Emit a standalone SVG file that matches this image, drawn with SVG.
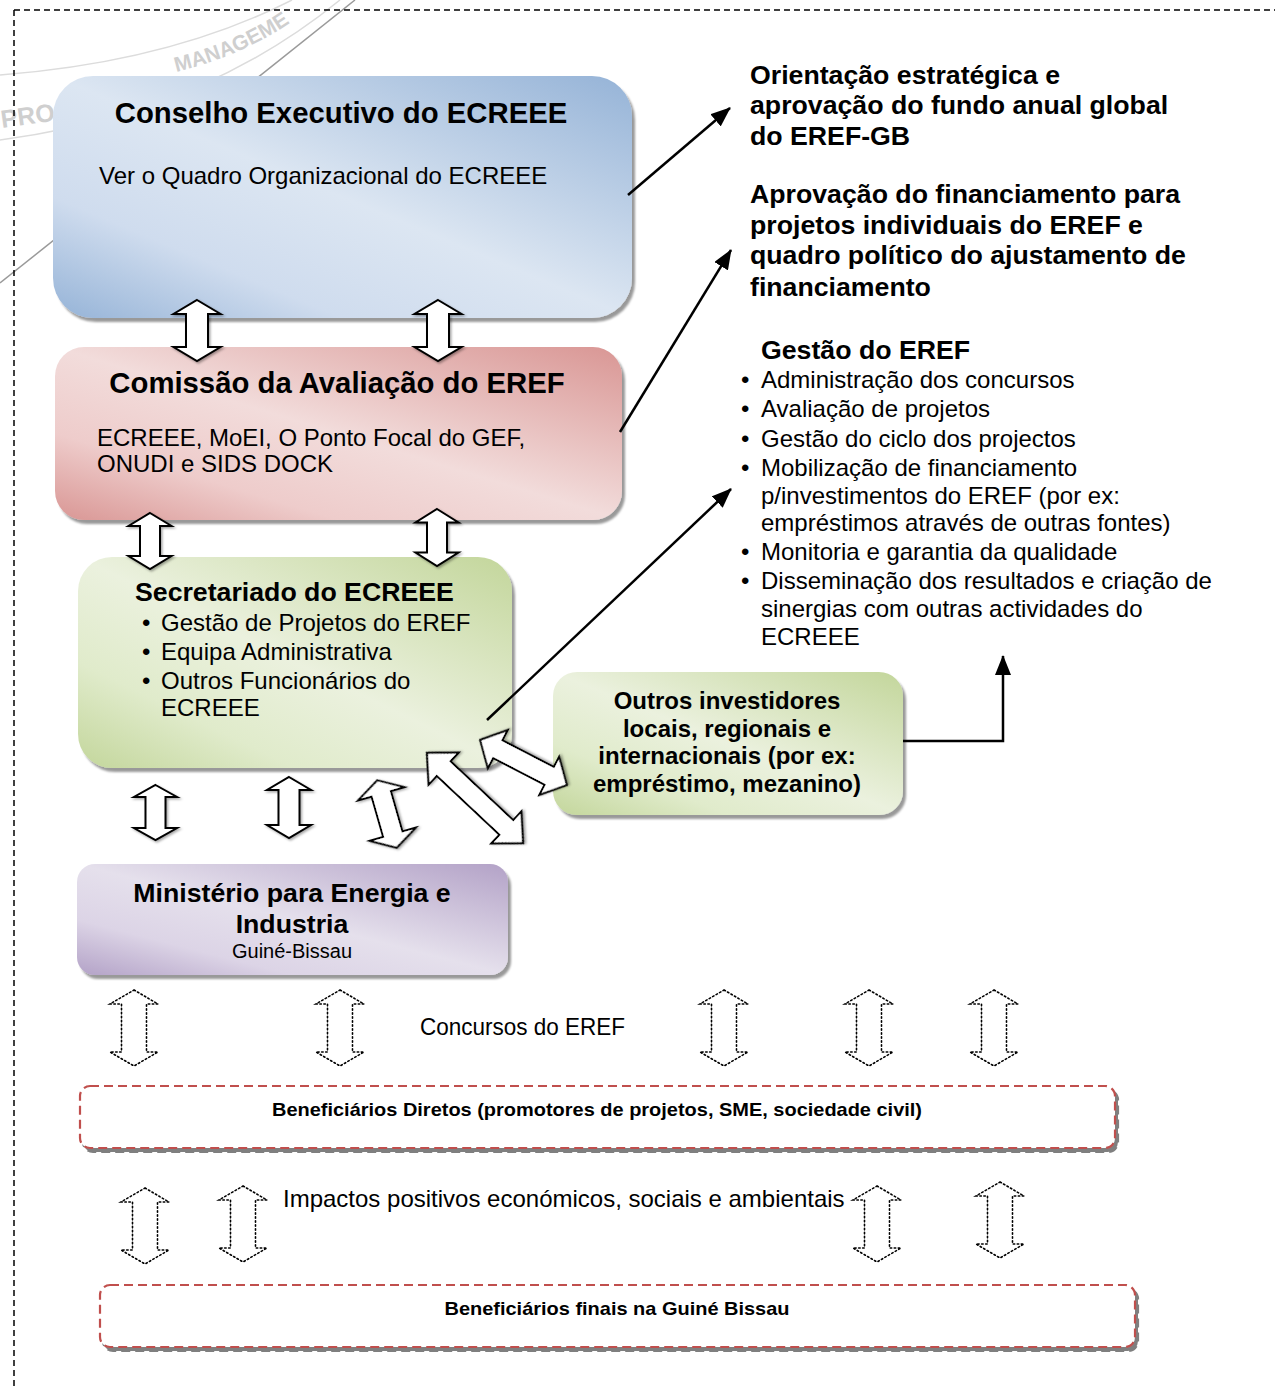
<svg xmlns="http://www.w3.org/2000/svg" width="1275" height="1387" viewBox="0 0 1275 1387">
<style>
text{font-family:"Liberation Sans",Arial,sans-serif;fill:#000}
.t29{font-size:29.3px;font-weight:bold}
.t27{font-size:26.7px;font-weight:bold}
.b24{font-size:24px;font-weight:bold}
.n24{font-size:24px}
.n20{font-size:20px}
.d19{font-size:19px;font-weight:bold}
.blk{fill:#fff;stroke:#000;stroke-width:2;stroke-linejoin:miter;filter:url(#ash)}
.dot{fill:none;stroke:#000;stroke-width:1.6;stroke-dasharray:1.5 2.5;stroke-linecap:round}
.ln{fill:none;stroke:#000;stroke-width:2.5}
.dbox{fill:#fff;stroke:#c0504d;stroke-width:2.2;stroke-dasharray:9 5;filter:url(#dsh)}
.wm{fill:#cfcfcf;font-size:25px;font-weight:bold}
.wm2{fill:#cfcfcf;font-size:21px;font-weight:bold}
</style>
<defs>
<linearGradient id="gBlue" x1="1" y1="0" x2="0" y2="1"><stop offset="0" stop-color="#95b3d7"/><stop offset="0.5" stop-color="#dce6f2"/><stop offset="0.75" stop-color="#cfdcee"/><stop offset="1" stop-color="#95b3d7"/></linearGradient>
<linearGradient id="gRed" x1="1" y1="0" x2="0" y2="1"><stop offset="0" stop-color="#d99694"/><stop offset="0.5" stop-color="#f2dcdb"/><stop offset="0.75" stop-color="#eecccb"/><stop offset="1" stop-color="#d99694"/></linearGradient>
<linearGradient id="gGreen" x1="1" y1="0" x2="0" y2="1"><stop offset="0" stop-color="#c3d69b"/><stop offset="0.5" stop-color="#ebf1de"/><stop offset="0.75" stop-color="#e0ebcb"/><stop offset="1" stop-color="#c3d69b"/></linearGradient>
<linearGradient id="gPurple" x1="1" y1="0" x2="0" y2="1"><stop offset="0" stop-color="#b3a2c7"/><stop offset="0.5" stop-color="#e5e0ec"/><stop offset="0.75" stop-color="#dcd4e6"/><stop offset="1" stop-color="#b3a2c7"/></linearGradient>
<filter id="sh" x="-5%" y="-5%" width="115%" height="120%"><feDropShadow dx="3" dy="4" stdDeviation="1" flood-color="#000" flood-opacity="0.4"/></filter>
<filter id="ash" x="-20%" y="-20%" width="150%" height="150%"><feDropShadow dx="1.5" dy="1.5" stdDeviation="0.8" flood-color="#000" flood-opacity="0.35"/></filter>
<filter id="dsh" x="-5%" y="-20%" width="115%" height="150%"><feDropShadow dx="3" dy="4" stdDeviation="0.6" flood-color="#7f7f7f" flood-opacity="1"/></filter>
<marker id="ah2" viewBox="0 0 20 16" refX="19" refY="8" markerWidth="20" markerHeight="16" markerUnits="userSpaceOnUse" orient="auto"><path d="M0,0 L20,8 L0,16 Z" fill="#000"/></marker>
<path id="wmPath" d="M176,72 Q250,54 302,14"/>
</defs>

<rect width="1275" height="1387" fill="#fff"/>

<!-- watermark -->
<g id="watermark">
<path d="M0,75 Q170,62 292,0" fill="none" stroke="#dcdcdc" stroke-width="1.5"/>
<path d="M0,140 Q200,114 340,0" fill="none" stroke="#dcdcdc" stroke-width="1.5"/>
<line x1="0" y1="283" x2="355" y2="0" stroke="#9a9a9a" stroke-width="1.5"/>
<text class="wm" x="2" y="128" transform="rotate(-8 2 128)">PRO</text>
<text class="wm2"><textPath href="#wmPath">MANAGEME</textPath></text>
</g>

<!-- outer dashed frame -->
<path d="M14,10 H1275 M14,10 V1387" fill="none" stroke="#000" stroke-width="1.5" stroke-dasharray="6 4"/>

<!-- nodes -->
<g id="conselho">
<rect x="53" y="76" width="579" height="242" rx="40" fill="url(#gBlue)" filter="url(#sh)"/>
<text class="t29" x="341" y="123" text-anchor="middle">Conselho Executivo do ECREEE</text>
<text class="n24" x="99" y="184">Ver o Quadro Organizacional do ECREEE</text>
</g>

<g id="comissao">
<rect x="55" y="347" width="567" height="173" rx="29" fill="url(#gRed)" filter="url(#sh)"/>
<text class="t29" x="337" y="393" text-anchor="middle">Comissão da Avaliação do EREF</text>
<text class="n24" x="97" y="446">ECREEE, MoEI, O Ponto Focal do GEF,</text>
<text class="n24" x="97" y="472">ONUDI e SIDS DOCK</text>
</g>

<g id="secretariado">
<rect x="78" y="557" width="434" height="211" rx="34" fill="url(#gGreen)" filter="url(#sh)"/>
<text class="t27" x="135" y="601">Secretariado do ECREEE</text>
<text class="n24" x="142" y="631">•</text><text class="n24" x="161" y="631">Gestão de Projetos do EREF</text>
<text class="n24" x="142" y="660">•</text><text class="n24" x="161" y="660">Equipa Administrativa</text>
<text class="n24" x="142" y="689">•</text><text class="n24" x="161" y="689">Outros Funcionários do</text>
<text class="n24" x="161" y="716">ECREEE</text>
</g>

<g id="outros">
<rect x="553" y="672" width="350" height="143" rx="24" fill="url(#gGreen)" filter="url(#sh)"/>
<text class="b24" x="727" y="709" text-anchor="middle">Outros investidores</text>
<text class="b24" x="727" y="737" text-anchor="middle">locais, regionais e</text>
<text class="b24" x="727" y="764" text-anchor="middle">internacionais (por ex:</text>
<text class="b24" x="727" y="792" text-anchor="middle">empréstimo, mezanino)</text>
</g>

<g id="ministerio">
<rect x="77" y="864" width="431" height="111" rx="18" fill="url(#gPurple)" filter="url(#sh)"/>
<text class="t27" x="292" y="902" text-anchor="middle">Ministério para Energia e</text>
<text class="t27" x="292" y="933" text-anchor="middle">Industria</text>
<text class="n20" x="292" y="958" text-anchor="middle">Guiné-Bissau</text>
</g>

<g id="orientacao">
<text class="t27" x="750" y="84">Orientação estratégica e</text>
<text class="t27" x="750" y="114">aprovação do fundo anual global</text>
<text class="t27" x="750" y="145">do EREF-GB</text>
</g>

<g id="aprovacao">
<text class="t27" x="750" y="203">Aprovação do financiamento para</text>
<text class="t27" x="750" y="234">projetos individuais do EREF e</text>
<text class="t27" x="750" y="264">quadro político do ajustamento de</text>
<text class="t27" x="750" y="296">financiamento</text>
</g>

<g id="gestao">
<text class="t27" x="761" y="359">Gestão do EREF</text>
<text class="n24" x="741" y="388">•</text><text class="n24" x="761" y="388">Administração dos concursos</text>
<text class="n24" x="741" y="417">•</text><text class="n24" x="761" y="417">Avaliação de projetos</text>
<text class="n24" x="741" y="447">•</text><text class="n24" x="761" y="447">Gestão do ciclo dos projectos</text>
<text class="n24" x="741" y="476">•</text><text class="n24" x="761" y="476">Mobilização de financiamento</text>
<text class="n24" x="761" y="504">p/investimentos do EREF (por ex:</text>
<text class="n24" x="761" y="531">empréstimos através de outras fontes)</text>
<text class="n24" x="741" y="560">•</text><text class="n24" x="761" y="560">Monitoria e garantia da qualidade</text>
<text class="n24" x="741" y="589">•</text><text class="n24" x="761" y="589">Disseminação dos resultados e criação de</text>
<text class="n24" x="761" y="617">sinergias com outras actividades do</text>
<text class="n24" x="761" y="645">ECREEE</text>
</g>

<g id="concursos-label"><text class="n24" x="420" y="1035" textLength="205" lengthAdjust="spacingAndGlyphs">Concursos do EREF</text></g>
<g id="impactos-label"><text class="n24" x="283" y="1207">Impactos positivos económicos, sociais e ambientais</text></g>

<g id="beneficiarios-diretos">
<rect class="dbox" x="80" y="1086" width="1035" height="62" rx="10"/>
<text class="d19" x="597" y="1116" text-anchor="middle" textLength="650" lengthAdjust="spacingAndGlyphs">Beneficiários Diretos (promotores de projetos, SME, sociedade civil)</text>
</g>

<g id="beneficiarios-finais">
<rect class="dbox" x="100" y="1285" width="1035" height="62" rx="10"/>
<text class="d19" x="617" y="1315" text-anchor="middle" textLength="345" lengthAdjust="spacingAndGlyphs">Beneficiários finais na Guiné Bissau</text>
</g>

<!-- connectors -->
<g id="connectors">
<line class="ln" x1="628" y1="195" x2="730" y2="108" marker-end="url(#ah2)"/>
<line class="ln" x1="620" y1="432" x2="731" y2="250" marker-end="url(#ah2)"/>
<line class="ln" x1="487" y1="720" x2="731" y2="489" marker-end="url(#ah2)"/>
<polyline class="ln" points="903,741 1003,741 1003,656" marker-end="url(#ah2)"/>

<!-- solid double block arrows -->
<path class="blk" transform="translate(197,330.5)" d="M0,-30.5 L23.5,-16.5 L11,-16.5 L11,16.5 L23.5,16.5 L0,30.5 L-23.5,16.5 L-11,16.5 L-11,-16.5 L-23.5,-16.5 Z"/>
<path class="blk" transform="translate(438,330.5)" d="M0,-30.5 L23.5,-16.5 L11,-16.5 L11,16.5 L23.5,16.5 L0,30.5 L-23.5,16.5 L-11,16.5 L-11,-16.5 L-23.5,-16.5 Z"/>
<path class="blk" transform="translate(150,541)" d="M0,-28 L21.5,-15 L10,-15 L10,15 L21.5,15 L0,28 L-21.5,15 L-10,15 L-10,-15 L-21.5,-15 Z"/>
<path class="blk" transform="translate(437,537.5)" d="M0,-28.5 L21.5,-15 L10,-15 L10,15 L21.5,15 L0,28.5 L-21.5,15 L-10,15 L-10,-15 L-21.5,-15 Z"/>
<path class="blk" transform="translate(155.5,812.5)" d="M0,-27.5 L21.5,-15.5 L10,-15.5 L10,15.5 L21.5,15.5 L0,27.5 L-21.5,15.5 L-10,15.5 L-10,-15.5 L-21.5,-15.5 Z"/>
<path class="blk" transform="translate(289,807.5)" d="M0,-30.5 L22,-17.5 L10.5,-17.5 L10.5,17.5 L22,17.5 L0,30.5 L-22,17.5 L-10.5,17.5 L-10.5,-17.5 L-22,-17.5 Z"/>
<path class="blk" transform="translate(387,814) rotate(-16)" d="M0,-35 L24,-21 L10,-21 L10,21 L24,21 L0,35 L-24,21 L-10,21 L-10,-21 L-24,-21 Z"/>
<path class="blk" transform="translate(475,798) rotate(-46.8)" d="M0,-66 L22,-43 L10,-43 L10,43 L22,43 L0,66 L-22,43 L-10,43 L-10,-43 L-22,-43 Z"/>
<path class="blk" transform="translate(523.5,762.5) rotate(-62.6)" d="M0,-49 L21.5,-29 L10,-29 L10,29 L21.5,29 L0,49 L-21.5,29 L-10,29 L-10,-29 L-21.5,-29 Z"/>

<!-- dotted double arrows -->
<path class="dot" transform="translate(134,1028)" d="M0,-38 L24,-24 L12.5,-24 L12.5,24 L24,24 L0,38 L-24,24 L-12.5,24 L-12.5,-24 L-24,-24 Z"/>
<path class="dot" transform="translate(340,1028)" d="M0,-38 L24,-24 L12.5,-24 L12.5,24 L24,24 L0,38 L-24,24 L-12.5,24 L-12.5,-24 L-24,-24 Z"/>
<path class="dot" transform="translate(724,1028)" d="M0,-38 L24,-24 L12.5,-24 L12.5,24 L24,24 L0,38 L-24,24 L-12.5,24 L-12.5,-24 L-24,-24 Z"/>
<path class="dot" transform="translate(869,1028)" d="M0,-38 L24,-24 L12.5,-24 L12.5,24 L24,24 L0,38 L-24,24 L-12.5,24 L-12.5,-24 L-24,-24 Z"/>
<path class="dot" transform="translate(994,1028)" d="M0,-38 L24,-24 L12.5,-24 L12.5,24 L24,24 L0,38 L-24,24 L-12.5,24 L-12.5,-24 L-24,-24 Z"/>
<path class="dot" transform="translate(145,1226)" d="M0,-38 L24,-24 L12.5,-24 L12.5,24 L24,24 L0,38 L-24,24 L-12.5,24 L-12.5,-24 L-24,-24 Z"/>
<path class="dot" transform="translate(243,1224)" d="M0,-38 L24,-24 L12.5,-24 L12.5,24 L24,24 L0,38 L-24,24 L-12.5,24 L-12.5,-24 L-24,-24 Z"/>
<path class="dot" transform="translate(877,1224)" d="M0,-38 L24,-24 L12.5,-24 L12.5,24 L24,24 L0,38 L-24,24 L-12.5,24 L-12.5,-24 L-24,-24 Z"/>
<path class="dot" transform="translate(1000,1220)" d="M0,-38 L24,-24 L12.5,-24 L12.5,24 L24,24 L0,38 L-24,24 L-12.5,24 L-12.5,-24 L-24,-24 Z"/>
</g>
</svg>
